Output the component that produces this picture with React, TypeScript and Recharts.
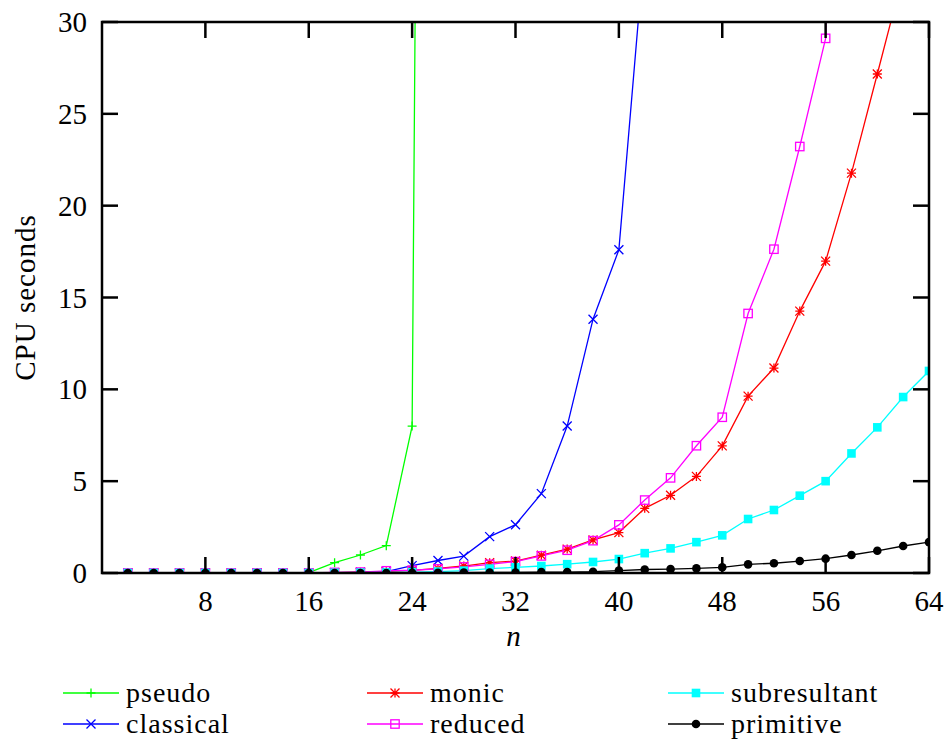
import { Line, LineChart, XAxis, YAxis } from "recharts";

const FONT = '"Liberation Serif", "DejaVu Serif", "Times New Roman", Times, FreeSerif, serif';
const BORDER = 2.5;
const TICK_LEN = 16;

const WIDTH = 944;
const HEIGHT = 740;
const MARGIN = { top: 22, right: 15, bottom: 77, left: 0 };
const X_AXIS_H = 90;
const Y_AXIS_W = 102;
const PLOT_TOP = MARGIN.top;
const PLOT_BOTTOM = HEIGHT - MARGIN.bottom - X_AXIS_H;
const PLOT_LEFT = MARGIN.left + Y_AXIS_W;
const PLOT_RIGHT = WIDTH - MARGIN.right;

// problem size n (even values only)
const N = [
  2, 4, 6, 8, 10, 12, 14, 16, 18, 20, 22, 24, 26, 28, 30, 32,
  34, 36, 38, 40, 42, 44, 46, 48, 50, 52, 54, 56, 58, 60, 62, 64,
];

const X_TICKS = [8, 16, 24, 32, 40, 48, 56, 64];
const Y_TICKS = [0, 5, 10, 15, 20, 25, 30];

// CPU seconds per method; null = not measured
const PSEUDO = [
  0, 0, 0, 0, 0, 0, 0, 0.02, 0.56, 0.98, 1.49, 8.0, 200,
  null, null, null, null, null, null, null, null, null, null,
  null, null, null, null, null, null, null, null, null,
];
const CLASSICAL = [
  0, 0, 0, 0, 0, 0, 0, 0, 0.02, 0.04, 0.08, 0.4, 0.68, 0.92, 1.98, 2.63,
  4.32, 8.0, 13.82, 17.6, 34.2,
  null, null, null, null, null, null, null, null, null, null, null,
];
const MONIC = [
  0, 0, 0, 0, 0, 0, 0, 0, 0.02, 0.04, 0.07, 0.14, 0.25, 0.38, 0.56, 0.65,
  0.97, 1.3, 1.8, 2.2, 3.52, 4.23, 5.26, 6.92, 9.63, 11.16, 14.26, 16.98,
  21.77, 27.17, 32.6, null,
];
const REDUCED = [
  0, 0, 0, 0, 0, 0, 0, 0, 0.03, 0.05, 0.12, 0.15, 0.22, 0.33, 0.47, 0.62,
  0.93, 1.24, 1.76, 2.62, 3.97, 5.18, 6.93, 8.48, 14.13, 17.63, 23.22, 29.11,
  80, null, null, null,
];
const SUBRESULTANT = [
  0, 0, 0, 0, 0, 0, 0, 0, 0.01, 0.02, 0.03, 0.05, 0.08, 0.13, 0.24, 0.31,
  0.38, 0.48, 0.6, 0.76, 1.08, 1.34, 1.68, 2.05, 2.94, 3.43, 4.21, 5.0,
  6.51, 7.93, 9.58, 11.0,
];
const PRIMITIVE = [
  0, 0, 0, 0, 0, 0, 0, 0, 0, 0, 0, 0.01, 0.01, 0.02, 0.03, 0.03,
  0.05, 0.05, 0.07, 0.13, 0.19, 0.21, 0.25, 0.31, 0.47, 0.53, 0.65, 0.78,
  0.98, 1.21, 1.47, 1.68,
];

const data = N.map((n, i) => ({
  n,
  pseudo: PSEUDO[i],
  classical: CLASSICAL[i],
  monic: MONIC[i],
  reduced: REDUCED[i],
  subresultant: SUBRESULTANT[i],
  primitive: PRIMITIVE[i],
}));

type Shape = "plus" | "cross" | "star" | "box" | "fbox" | "circle";

const SERIES: { key: string; label: string; color: string; shape: Shape }[] = [
  { key: "pseudo", label: "pseudo", color: "#00ff00", shape: "plus" },
  { key: "classical", label: "classical", color: "#0000ff", shape: "cross" },
  { key: "monic", label: "monic", color: "#ff0000", shape: "star" },
  { key: "reduced", label: "reduced", color: "#ff00ff", shape: "box" },
  { key: "subresultant", label: "subresultant", color: "#00ffff", shape: "fbox" },
  { key: "primitive", label: "primitive", color: "#000000", shape: "circle" },
];

function Marker({ shape, cx, cy, color }: { shape: Shape; cx: number; cy: number; color: string }) {
  const s = 4.5;
  const w = 1.3;
  switch (shape) {
    case "plus":
      return (
        <path d={`M${cx - s},${cy}H${cx + s}M${cx},${cy - s}V${cy + s}`} stroke={color} strokeWidth={w} fill="none" />
      );
    case "cross":
      return (
        <path
          d={`M${cx - s},${cy - s}L${cx + s},${cy + s}M${cx - s},${cy + s}L${cx + s},${cy - s}`}
          stroke={color}
          strokeWidth={w}
          fill="none"
        />
      );
    case "star":
      return (
        <path
          d={`M${cx - s},${cy}H${cx + s}M${cx},${cy - s}V${cy + s}M${cx - s},${cy - s}L${cx + s},${cy + s}M${cx - s},${cy + s}L${cx + s},${cy - s}`}
          stroke={color}
          strokeWidth={w}
          fill="none"
        />
      );
    case "box":
      return <rect x={cx - 4.2} y={cy - 4.2} width={8.4} height={8.4} stroke={color} strokeWidth={w} fill="none" />;
    case "fbox":
      return <rect x={cx - 4.3} y={cy - 4.3} width={8.6} height={8.6} fill={color} />;
    default:
      return <circle cx={cx} cy={cy} r={4.3} fill={color} />;
  }
}

function makeDot(shape: Shape, color: string) {
  return (props: any) => {
    const { cx, cy, index, value } = props;
    if (cx == null || cy == null || value == null) return <g key={`e-${index}`} />;
    return (
      <g key={`d-${index}`}>
        <Marker shape={shape} cx={cx} cy={cy} color={color} />
      </g>
    );
  };
}

// x tick: label below the plot, inward tick marks on bottom and top borders
function XTick(props: any) {
  const { x, payload } = props;
  return (
    <g>
      <line x1={x} x2={x} y1={PLOT_BOTTOM} y2={PLOT_BOTTOM - TICK_LEN} stroke="#000" strokeWidth={BORDER} />
      <line x1={x} x2={x} y1={PLOT_TOP} y2={PLOT_TOP + TICK_LEN} stroke="#000" strokeWidth={BORDER} />
      <text x={x} y={PLOT_BOTTOM + 38} textAnchor="middle" fontFamily={FONT} fontSize={29} fill="#000">
        {payload.value}
      </text>
    </g>
  );
}

// y tick: label left of the plot, inward tick marks on left and right borders;
// the first one also draws the plot frame
function YTick(props: any) {
  const { y, payload } = props;
  const first = payload.value === Y_TICKS[0];
  return (
    <g>
      {first && (
        <path
          d={`M${PLOT_LEFT},${PLOT_TOP}H${PLOT_RIGHT}V${PLOT_BOTTOM}H${PLOT_LEFT}Z`}
          fill="none"
          stroke="#000"
          strokeWidth={BORDER}
        />
      )}
      <line x1={PLOT_LEFT} x2={PLOT_LEFT + TICK_LEN} y1={y} y2={y} stroke="#000" strokeWidth={BORDER} />
      <line x1={PLOT_RIGHT} x2={PLOT_RIGHT - TICK_LEN} y1={y} y2={y} stroke="#000" strokeWidth={BORDER} />
      <text x={PLOT_LEFT - 15} y={y + 10} textAnchor="end" fontFamily={FONT} fontSize={29} fill="#000">
        {payload.value}
      </text>
    </g>
  );
}

function YLabel(props: any) {
  const vb = props.viewBox || {};
  const x = (vb.x ?? 0) + 25;
  const y = (vb.y ?? PLOT_TOP) + (vb.height ?? PLOT_BOTTOM - PLOT_TOP) / 2;
  return (
    <text
      x={x}
      y={y}
      transform={`rotate(-90, ${x}, ${y})`}
      textAnchor="middle"
      dominantBaseline="central"
      fontFamily={FONT}
      fontSize={29}
      fill="#000"
      letterSpacing={1}
    >
      CPU seconds
    </text>
  );
}

function XLabel(props: any) {
  const vb = props.viewBox || {};
  const x = (vb.x ?? PLOT_LEFT) + (vb.width ?? PLOT_RIGHT - PLOT_LEFT) / 2 - 2;
  const y = (vb.y ?? PLOT_BOTTOM) + 73;
  return (
    <text x={x} y={y} textAnchor="middle" fontFamily={FONT} fontSize={29} fontStyle="italic" fill="#000">
      n
    </text>
  );
}

const LEGEND_COLS = [63, 367, 668];
const LEGEND_ROWS = [681, 712];

function LegendItem({ s, left, top }: { s: (typeof SERIES)[number]; left: number; top: number }) {
  return (
    <div style={{ position: "absolute", left, top, display: "flex", alignItems: "center", height: 24 }}>
      <svg width={56} height={24} style={{ marginRight: 7 }}>
        <line x1={0} x2={56} y1={12} y2={12} stroke={s.color} strokeWidth={1.3} />
        <Marker shape={s.shape} cx={28} cy={12} color={s.color} />
      </svg>
      <span style={{ fontFamily: FONT, fontSize: 28, lineHeight: "24px", letterSpacing: 1, color: "#000" }}>
        {s.label}
      </span>
    </div>
  );
}

export default function App() {
  return (
    <div style={{ position: "absolute", left: 0, top: 0, width: WIDTH, height: HEIGHT, background: "#fff" }}>
      <LineChart width={WIDTH} height={HEIGHT} data={data} margin={MARGIN}>
        <XAxis
          dataKey="n"
          type="number"
          domain={[0, 64]}
          ticks={X_TICKS}
          allowDataOverflow
          height={X_AXIS_H}
          axisLine={false}
          tickLine={false}
          tick={XTick}
          label={XLabel}
        />
        <YAxis
          type="number"
          domain={[0, 30]}
          ticks={Y_TICKS}
          allowDataOverflow
          width={Y_AXIS_W}
          axisLine={false}
          tickLine={false}
          tick={YTick}
          label={YLabel}
        />
        {SERIES.map((s) => (
          <Line
            key={s.key}
            dataKey={s.key}
            type="linear"
            stroke={s.color}
            strokeWidth={1.3}
            dot={makeDot(s.shape, s.color)}
            activeDot={false}
            isAnimationActive={false}
          />
        ))}
      </LineChart>
      {SERIES.map((s, i) => (
        <LegendItem
          key={s.key}
          s={s}
          left={LEGEND_COLS[Math.floor(i / 2)]}
          top={LEGEND_ROWS[i % 2]}
        />
      ))}
    </div>
  );
}
